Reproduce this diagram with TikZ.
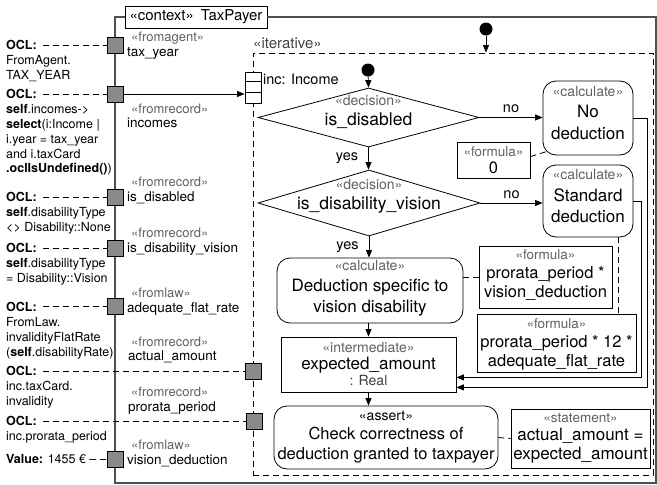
\documentclass[tikz,border=0pt]{standalone}
\usepackage{fontspec}
\setmainfont{TeX Gyre Heros}
\usetikzlibrary{shapes.geometric,calc,arrows.meta}
\definecolor{stgrey}{HTML}{606060}
\definecolor{framegrey}{HTML}{505050}
\definecolor{pingrey}{HTML}{8A8A8A}
\newcommand{\fsz}[2]{\fontsize{#1pt}{#2pt}\selectfont}
\newcommand{\stt}[1]{{\color{stgrey}\fsz{14}{17}#1}}
\newcommand{\sts}[1]{{\color{stgrey}\fsz{13.5}{17}#1}}
\begin{document}
\begin{tikzpicture}[x=1pt,y=-1pt,
  box/.style={draw, line width=0.8pt, inner sep=0pt},
  calcbox/.style={box, rounded corners=13pt},
  decbox/.style={draw, line width=0.8pt, diamond, inner sep=0pt},
  txt/.style={align=center, inner sep=0pt},
  pinbox/.style={draw, line width=0.6pt, fill=pingrey, minimum size=16pt, inner sep=0pt},
  startdot/.style={circle, fill=black, inner sep=0pt, minimum size=13pt},
  arr/.style={line width=0.8pt, -{Triangle[length=7.5pt,width=6pt]}},
  dsh/.style={line width=0.8pt, dash pattern=on 6pt off 4pt},
  frame/.style={line width=1.3pt, draw=framegrey},
  ocl/.style={anchor=north west, align=left, inner sep=0pt, font=\fsz{12.5}{14.8}},
  pst/.style={anchor=base west, inner sep=0pt, text=stgrey, font=\fsz{13}{14}},
  plb/.style={anchor=base west, inner sep=0pt, font=\fsz{13.5}{14}},
  lbl/.style={inner sep=0pt, font=\fsz{14.5}{16}},
]
\useasboundingbox (0,0) rectangle (657,485);

% context frame
\node[draw, line width=0.8pt, minimum width=142pt, minimum height=22pt, inner sep=0pt, font=\fsz{15}{18}] (ctx) at (196,17) {«context»\hspace{7pt}TaxPayer};
\draw[frame] (ctx.west) -- (115,17) -- (115,483) -- (656,483) -- (656,17) -- (ctx.east);

% iterative region
\node[draw, dsh, minimum width=400pt, minimum height=422pt, inner sep=0pt] (it) at (453,264) {};
\node[anchor=west, inner sep=0pt, font=\fsz{15}{18}, text=black!75] (itl) at (253,43) {«iterative»};

\node[startdot] (s1) at (486,29) {};
\draw[arr] (s1) -- (s1 |- it.north);

% expansion node
\node[draw, line width=0.8pt, fill=white, minimum width=16pt, minimum height=31pt, inner sep=0pt] (exn) at (253,87.5) {};
\draw[line width=0.8pt] ($(exn.north west)+(0,10)$) -- ($(exn.north east)+(0,10)$);
\draw[line width=0.8pt] ($(exn.north west)+(0,21)$) -- ($(exn.north east)+(0,21)$);
\node[anchor=west, inner sep=0pt, font=\fsz{14.5}{17}] (exl) at (263,79) {inc: Income};

% shapes
\node[startdot] (s2) at (368,70) {};
\node[decbox, minimum width=221pt, minimum height=59pt] (d1) at (368.5,117.5) {};
\node[decbox, minimum width=222pt, minimum height=66pt] (d2) at (369,203) {};
\node[calcbox, minimum width=90pt, minimum height=74pt] (nod) at (588,118) {};
\node[calcbox, minimum width=90pt, minimum height=72pt] (std) at (588,201) {};
\node[box, minimum width=73pt, minimum height=36pt] (f0) at (493.5,160) {};
\node[calcbox, minimum width=186pt, minimum height=65pt] (ded) at (370,290.5) {};
\node[box, minimum width=133pt, minimum height=62pt] (f1) at (545.5,277) {};
\node[box, minimum width=159pt, minimum height=58pt] (f2) at (556.5,343) {};
\node[box, minimum width=175pt, minimum height=55pt] (expa) at (368.5,364.5) {};
\node[calcbox, minimum width=224pt, minimum height=63pt] (asrt) at (386,437.5) {};
\node[box, minimum width=139pt, minimum height=59pt] (stmt) at (580.5,438.5) {};

% texts in shapes
\node[txt, font=\fsz{17.5}{20}] (d1t) at (368.5,112) {\stt{«decision»}\\is\_disabled};
\node[txt, font=\fsz{17.5}{20}] (d2t) at (369,196.5) {\stt{«decision»}\\is\_disability\_vision};
\node[txt, font=\fsz{17}{21.5}] (nodt) at (588,113) {\stt{«calculate»}\\No\\deduction};
\node[txt, font=\fsz{17}{21.5}] (stdt) at (588,196.5) {\stt{«calculate»}\\Standard\\deduction};
\node[txt, font=\fsz{16.5}{17}] (f0t) at (493.5,160) {\sts{«formula»}\\0};
\node[txt, font=\fsz{17}{21}] (dedt) at (370,288.5) {\stt{«calculate»}\\Deduction specific to\\vision disability};
\node[txt, font=\fsz{16.5}{19}] (f1t) at (545.5,275.5) {\sts{«formula»}\\prorata\_period *\\vision\_deduction};
\node[txt, font=\fsz{16.5}{19}] (f2t) at (556.5,344) {\sts{«formula»}\\prorata\_period * 12 *\\adequate\_flat\_rate};
\node[txt, font=\fsz{17}{16.5}] (expat) at (368.5,364) {\stt{«intermediate»}\\expected\_amount\\{\color{black!75}\fsz{14}{16}: Real}};
\node[txt, font=\fsz{16.5}{19.5}] (asrtt) at (386,437) {{\fsz{14}{17}«assert»}\\Check correctness of\\deduction granted to taxpayer};
\node[txt, font=\fsz{17}{18.5}] (stmtt) at (580.5,438) {\sts{«statement»}\\actual\_amount =\\expected\_amount};

% flow connectors
\draw[arr] (s2) -- (d1.north);
\draw[arr] (d1.south) -- node[lbl, left=10pt] (y1) {yes} (d1.south |- d2.north);
\draw[arr] (d1.east) -- node[lbl, above=4pt] (n1) {no} (d1.east -| nod.west);
\draw[arr] (d2.east) -- node[lbl, above=4pt] (n2) {no} (d2.east -| std.west);
\draw[arr] (d2.south) -- node[lbl, left=10pt] (y2) {yes} (d2.south |- ded.north);
\draw[arr] (ded.south -| expa.north) -- (expa.north);
\draw[arr] (expa.south) -- (expa.south |- asrt.north);
\draw[arr] (nod.east) -- ++(14,0) |- ($(expa.south east)+(0,-5)$);
\draw[arr] (std.east) -- ++(8,0) |- ($(expa.south east)+(0,-15)$);
\draw[dsh] ($(f0.north east)+(0,15)$) -- ($(nod.south west)+(3.8,-3.8)$);
\draw[dsh] ($(std.south east)+(-15,0)$) -- ($(f2.north east)+(-18,0)$);
\draw[dsh] (f1.west -| ded.east) -- (f1.west);
\draw[dsh] (asrt.east) -- (stmt.west);

% OCL annotations
\node[ocl] (ocl1) at (6,40.5) {\textbf{OCL:}\\FromAgent.\\TAX\_YEAR};
\node[ocl] (ocl2) at (6,89.5) {\textbf{OCL:}\\\textbf{self}.incomes->\\\textbf{select}(i:Income |\\i.year = tax\_year\\and i.taxCard\\\textbf{.oclIsUndefined()})};
\node[ocl] (ocl3) at (6,192.5) {\textbf{OCL:}\\\textbf{self}.disabilityType\\<> Disability::None};
\node[ocl] (ocl4) at (6,243.5) {\textbf{OCL:}\\\textbf{self}.disabilityType\\= Disability::Vision};
\node[ocl] (ocl5) at (6,302.5) {\textbf{OCL:}\\FromLaw.\\invalidityFlatRate\\(\textbf{self}.disabilityRate)};
\node[ocl] (ocl6) at (6,366.5) {\textbf{OCL:}\\inc.taxCard.\\invalidity};
\node[ocl] (ocl7) at (6,416.5) {\textbf{OCL:}\\inc.prorata\_period};
\node[anchor=west, inner sep=0pt, font=\fsz{12.5}{14.8}] (val) at (6,459) {\textbf{Value:} 1455 € –};

\coordinate (o1) at (43,45);
\coordinate (o2) at (43,94);
\coordinate (o3) at (43,197);
\coordinate (o4) at (43,248);
\coordinate (o5) at (43,306);
\coordinate (o6) at (43,371);
\coordinate (o7) at (43,421);
\coordinate (o8) at (100,459);

% pins
\node[pinbox] (p1) at (115,45) {};
\node[pinbox] (p2) at (115,94) {};
\node[pinbox] (p3) at (115,197) {};
\node[pinbox] (p4) at (115,248) {};
\node[pinbox] (p5) at (115,306) {};
\node[pinbox] (p6) at (115,459) {};

\draw[dsh] (o1) -- (p1.west);
\draw[dsh] (o2) -- (p2.west);
\draw[dsh] (o3) -- (p3.west);
\draw[dsh] (o4) -- (p4.west);
\draw[dsh] (o5) -- (p5.west);
\draw[dsh] (o8) -- (p6.west);

\node[pinbox] (q1) at (253,371) {};
\node[pinbox] (q2) at (254,421) {};
\draw[dsh] (o6) -- (q1.west);
\draw[dsh] (o7) -- (q2.west);

\draw[arr] (p2.east) -- (exn.west |- p2.east);

% pin labels
\node[pst] (p1s) at (131,41.5) {«fromagent»};
\node[plb] (p1l) at (127,56) {tax\_year};
\node[pst] (p2s) at (131,113.5) {«fromrecord»};
\node[plb] (p2l) at (127,127) {incomes};
\node[pst] (p3s) at (131,186.5) {«fromrecord»};
\node[plb] (p3l) at (127,201) {is\_disabled};
\node[pst] (p4s) at (131,237.5) {«fromrecord»};
\node[plb] (p4l) at (127,252) {is\_disability\_vision};
\node[pst] (p5s) at (131,297.5) {«fromlaw»};
\node[plb] (p5l) at (127,312) {adequate\_flat\_rate};
\node[pst] (q1s) at (131,346.5) {«fromrecord»};
\node[plb] (q1l) at (128,360) {actual\_amount};
\node[pst] (q2s) at (131,396.5) {«fromrecord»};
\node[plb] (q2l) at (128,411) {prorata\_period};
\node[pst] (p6s) at (131,449.5) {«fromlaw»};
\node[plb] (p6l) at (127,464) {vision\_deduction};
\end{tikzpicture}
\end{document}
